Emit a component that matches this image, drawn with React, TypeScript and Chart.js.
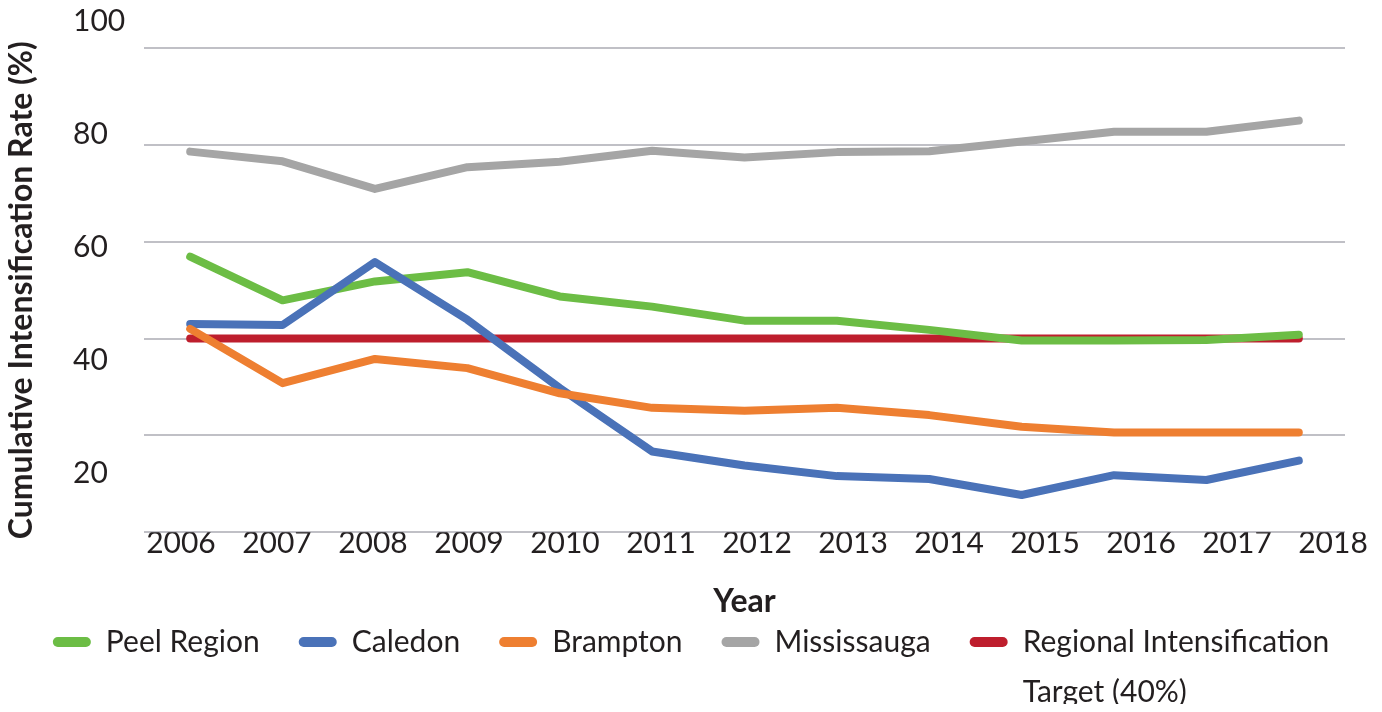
import React, { useEffect, useRef } from "react";
import { Chart, registerables } from "chart.js";

Chart.register(...registerables);

// ---- data ----
const years = ["2006", "2007", "2008", "2009", "2010", "2011", "2012", "2013", "2014", "2015", "2016", "2017", "2018"];
const yearTickValues = [2006, 2007, 2008, 2009, 2010, 2011, 2012, 2013, 2014, 2015, 2016, 2017, 2018];
const peelRegion = [56.9, 47.9, 51.8, 53.7, 48.7, 46.6, 43.7, 43.7, 41.8, 39.6, 39.6, 39.7, 40.8];
const caledon = [43.0, 42.8, 55.8, 43.9, 29.8, 16.7, 13.8, 11.6, 11.0, 7.7, 11.8, 10.8, 14.8];
const brampton = [42.0, 30.8, 35.8, 33.9, 28.7, 25.7, 25.1, 25.7, 24.2, 21.8, 20.6, 20.6, 20.6];
const mississauga = [78.6, 76.6, 70.9, 75.4, 76.5, 78.8, 77.4, 78.5, 78.7, 80.7, 82.7, 82.7, 85.0];
const regionalTarget = [40, 40, 40, 40, 40, 40, 40, 40, 40, 40, 40, 40, 40];
const yTickLabelValues = [20, 40, 60, 80, 100];
const seriesNames = ["Peel Region", "Caledon", "Brampton", "Mississauga", "Regional Intensification Target (40%)"];
const targetLegendLines = ["Regional Intensification", "Target (40%)"];
const yAxisTitle = "Cumulative Intensification Rate (%)";
const xAxisTitle = "Year";

// ---- styles ----
const seriesColors = ["#6cbd45", "#4a72b8", "#ee7f31", "#a5a5a5", "#be1e2d"];
const drawOrder = [4, 3, 2, 1, 5];
const textColor = "#231f20";
const gridColor = "#c0c0c6";
const fontFamily = "Lato, 'Open Sans', sans-serif";
const legendFontSize = 30;

const legendSecondLine = {
  id: "legendSecondLine",
  afterDraw(chart: any) {
    const legend = chart.legend;
    if (!legend || !legend.legendHitBoxes || !legend.legendHitBoxes[4]) return;
    const hb = legend.legendHitBoxes[4];
    const boxWidth = legend.options.labels.boxWidth;
    const ctx = chart.ctx;
    ctx.save();
    ctx.font = `${legendFontSize}px ${fontFamily}`;
    ctx.fillStyle = textColor;
    ctx.textBaseline = "middle";
    ctx.textAlign = "left";
    ctx.fillText(
      targetLegendLines[1],
      hb.left + boxWidth + legendFontSize / 2,
      hb.top + hb.height / 2 + 50
    );
    ctx.restore();
  },
};

export default function App() {
  const canvasRef = useRef<HTMLCanvasElement | null>(null);

  useEffect(() => {
    if (!canvasRef.current) return;
    const seriesData = [peelRegion, caledon, brampton, mississauga, regionalTarget];
    const chart = new Chart(canvasRef.current, {
      type: "line",
      data: {
        labels: years,
        datasets: seriesData.map((d, i) => ({
          label: seriesNames[i],
          data: d,
          borderColor: seriesColors[i],
          backgroundColor: seriesColors[i],
          borderWidth: 8,
          borderCapStyle: "round",
          borderJoinStyle: "round",
          pointRadius: 0,
          pointHoverRadius: 0,
          tension: 0,
          fill: false,
          order: drawOrder[i],
          xAxisID: "x",
          yAxisID: "y",
        })),
      },
      options: {
        responsive: false,
        animation: false,
        layout: { padding: { top: 40, right: 0, bottom: 45, left: 0 } },
        font: { family: fontFamily },
        plugins: {
          tooltip: { enabled: false },
          legend: {
            display: true,
            position: "bottom",
            labels: {
              boxWidth: 38,
              boxHeight: 10,
              padding: 39,
              useBorderRadius: true,
              borderRadius: 5,
              color: textColor,
              font: { family: fontFamily, size: legendFontSize },
              generateLabels: (c: any) =>
                c.data.datasets.map((ds: any, i: number) => ({
                  text: i === 4 ? targetLegendLines[0] : ds.label,
                  fillStyle: ds.borderColor,
                  strokeStyle: ds.borderColor,
                  lineWidth: 0,
                  hidden: false,
                  borderRadius: 5,
                  fontColor: textColor,
                  datasetIndex: i,
                })),
            },
          },
        },
        scales: {
          x: {
            type: "category",
            offset: true,
            display: false,
          },
          xLabels: {
            type: "linear",
            position: "bottom",
            min: 2005.615,
            max: 2018.125,
            bounds: "data",
            grid: { display: false, drawTicks: false },
            border: { display: false },
            afterBuildTicks: (axis: any) => {
              axis.ticks = yearTickValues.map((v) => ({ value: v }));
            },
            afterFit: (axis: any) => {
              axis.height = 55.7;
            },
            ticks: {
              autoSkip: false,
              maxRotation: 0,
              padding: -4.3,
              color: textColor,
              font: { family: fontFamily, size: 30, lineHeight: 1 },
              callback: (v: any) => years[yearTickValues.indexOf(Number(v))] ?? "",
            },
            title: {
              display: true,
              text: xAxisTitle,
              color: textColor,
              font: { family: fontFamily, size: 32, weight: "bold", lineHeight: 1 },
              padding: { top: 0, bottom: -30 },
            },
          },
          y: {
            type: "linear",
            position: "left",
            weight: 1,
            min: 0,
            max: 100,
            ticks: { display: false, stepSize: 20 },
            grid: { color: gridColor, lineWidth: 2, drawTicks: false },
            border: { display: false },
            afterFit: (axis: any) => {
              axis.width = 65;
            },
            title: {
              display: true,
              text: yAxisTitle,
              color: textColor,
              font: { family: fontFamily, size: 32, weight: "bold", lineHeight: 1 },
              padding: { top: -2, bottom: 0 },
            },
          },
          yLabels: {
            type: "linear",
            position: "left",
            weight: 0,
            min: 9.5,
            max: 95.2,
            bounds: "data",
            grid: { display: false, drawTicks: false },
            border: { display: false },
            afterBuildTicks: (axis: any) => {
              axis.ticks = yTickLabelValues.map((v) => ({ value: v }));
            },
            afterFit: (axis: any) => {
              axis.width = 71;
            },
            ticks: {
              autoSkip: false,
              crossAlign: "far",
              padding: 0,
              color: textColor,
              font: { family: fontFamily, size: 30, lineHeight: 1 },
              callback: (v: any) => String(v),
            },
          },
          rightSpace: {
            type: "linear",
            position: "right",
            min: 0,
            max: 1,
            grid: { display: false, drawTicks: false },
            border: { display: false },
            ticks: { display: false },
            afterFit: (axis: any) => {
              axis.width = 29;
            },
          },
        },
      } as any,
      plugins: [legendSecondLine],
    });
    return () => chart.destroy();
  }, []);

  return (
    <div style={{ width: 1366, height: 696 }}>
      <canvas ref={canvasRef} width={1366} height={704} style={{ display: "block", width: 1366, height: 704 }} />
    </div>
  );
}
